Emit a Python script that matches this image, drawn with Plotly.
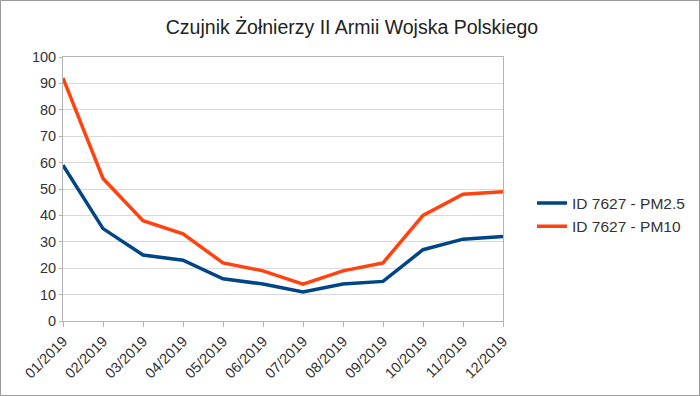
import plotly.graph_objects as go

months = ["01/2019", "02/2019", "03/2019", "04/2019", "05/2019", "06/2019",
          "07/2019", "08/2019", "09/2019", "10/2019", "11/2019", "12/2019"]
pm25 = [59, 35, 25, 23, 16, 14, 11, 14, 15, 27, 31, 32]
pm10 = [92, 54, 38, 33, 22, 19, 14, 19, 22, 40, 48, 49]
y_ticks = [0, 10, 20, 30, 40, 50, 60, 70, 80, 90, 100]

W, H = 700, 396
L, R, T, B = 63, 197, 57, 75
pw, ph = W - L - R, H - T - B

xs = list(range(len(months)))

fig = go.Figure()
fig.add_trace(go.Scatter(x=xs, y=pm25, mode="lines", name="ID 7627 - PM2.5",
                         line=dict(color="#004586", width=3.5)))
fig.add_trace(go.Scatter(x=xs, y=pm10, mode="lines", name="ID 7627 - PM10",
                         line=dict(color="#ff420e", width=3.5)))

font = dict(family="Liberation Sans, Arial, sans-serif", size=14, color="#333333")

fig.update_layout(
    width=W, height=H,
    margin=dict(l=L, r=R, t=T, b=B, autoexpand=False),
    paper_bgcolor="white", plot_bgcolor="white",
    font=font,
    title=dict(text="Czujnik Żołnierzy II Armii Wojska Polskiego",
               x=352 / W, xanchor="center", y=1 - 27 / H, yanchor="middle",
               font=dict(family="Liberation Sans, Arial, sans-serif", size=19.5, color="#222222")),
    xaxis=dict(range=[0, len(months) - 1], tickmode="array", tickvals=xs, ticktext=months,
               tickangle=-45, showgrid=False, zeroline=False, automargin=False,
               showline=True, linecolor="#b3b3b3", linewidth=1, mirror=True,
               ticks="outside", ticklen=5, tickcolor="#b3b3b3",
               tickfont=dict(size=14.5, color="#333333")),
    yaxis=dict(range=[0, 100], tickmode="array", tickvals=y_ticks, automargin=False,
               showgrid=True, gridcolor="#d9d9d9", gridwidth=1, zeroline=False,
               showline=True, linecolor="#b3b3b3", linewidth=1, mirror=True,
               ticks="outside", ticklen=3, tickcolor="#b3b3b3",
               tickfont=dict(size=14.5, color="#333333")),
    legend=dict(x=(532 - L) / pw, xanchor="left", y=(H - B - 215) / ph, yanchor="middle",
                bgcolor="rgba(0,0,0,0)", itemwidth=30, tracegroupgap=0,
                font=dict(size=15.5, color="#333333")),
    showlegend=True,
)

fig.add_shape(type="rect", xref="paper", yref="paper",
              x0=(-L + 0.5) / pw, x1=(W - L - 0.5) / pw,
              y0=-(B - 0.5) / ph, y1=1 + (T - 0.5) / ph,
              line=dict(color="#999999", width=1), layer="below")

fig.write_html("out.html", config={"displayModeBar": False},
               post_script="document.body.style.margin='0';")
